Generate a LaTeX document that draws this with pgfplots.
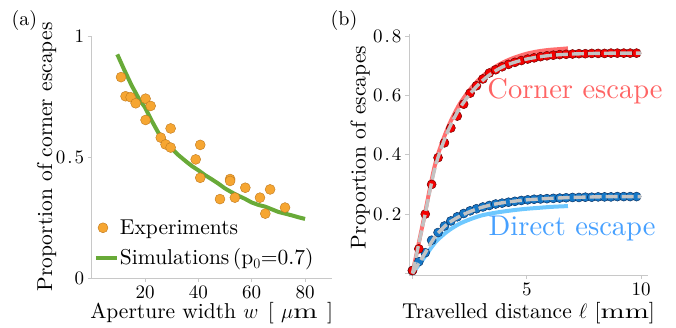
\documentclass[border=0pt]{standalone}
\usepackage{pgfplots}
\pgfplotsset{compat=1.18}
\usepackage{pgfplotstable}
\usepackage{graphicx}
\usepackage{fontspec}
\setmainfont{lmroman10-regular.otf}[ItalicFont=lmroman10-italic.otf, BoldFont=lmroman10-bold.otf]

\definecolor{orfill}{RGB}{246,166,50}
\definecolor{oredge}{RGB}{190,120,30}
\definecolor{simgreen}{RGB}{104,170,56}
\definecolor{redfill}{RGB}{245,0,0}
\definecolor{rededge}{RGB}{110,0,0}
\definecolor{bluefill}{RGB}{20,120,200}
\definecolor{blueedge}{RGB}{10,50,100}
\definecolor{salmon}{RGB}{255,110,110}
\definecolor{lblue}{RGB}{110,200,255}
\definecolor{fitgray}{RGB}{195,195,195}
\definecolor{cornertxt}{RGB}{255,100,100}
\definecolor{directtxt}{RGB}{70,160,255}
\definecolor{axgray}{RGB}{200,200,200}

\newcommand{\wm}{\scalebox{1.35}[1]{m}}
\newcommand{\dotsp}{\kern2pt.\kern2pt}

\pgfplotstableread{
w p
11.0 0.830
12.7 0.751
14.6 0.747
16.5 0.722
20.2 0.741
22.1 0.711
20.2 0.653
25.9 0.580
27.7 0.552
29.6 0.539
29.6 0.618
39.0 0.490
40.7 0.550
40.7 0.414
48.1 0.326
51.9 0.409
51.9 0.401
53.7 0.332
57.6 0.373
63.1 0.332
65.1 0.266
66.9 0.366
72.5 0.291
}\experiments

\pgfplotstableread{
w p
9.6 0.924
12 0.865
15 0.795
18 0.735
20 0.705
22.5 0.650
25 0.600
27.5 0.565
30 0.535
32.5 0.508
35 0.485
37.5 0.463
40 0.445
42.5 0.425
45 0.408
47.5 0.390
50 0.370
52.5 0.354
55 0.340
57.5 0.327
60 0.312
62.5 0.302
65 0.295
67.5 0.284
70 0.273
72.5 0.266
75 0.259
77.5 0.251
80 0.244
}\simulations

\pgfplotstableread{
x y
0.00 0.010
0.28 0.083
0.56 0.200
0.84 0.300
1.12 0.390
1.40 0.440
1.68 0.490
1.96 0.530
2.24 0.570
2.52 0.607
2.80 0.632
3.08 0.655
3.36 0.675
3.64 0.686
3.92 0.696
4.20 0.704
4.48 0.711
4.76 0.717
5.04 0.722
5.32 0.726
5.60 0.730
5.88 0.733
6.16 0.735
6.44 0.737
6.72 0.738
7.00 0.739
7.28 0.740
7.56 0.740
7.84 0.741
8.12 0.741
8.40 0.741
8.68 0.742
8.96 0.742
9.24 0.742
9.52 0.742
9.80 0.742
}\cornerpts

\pgfplotstableread{
x y
0.00 0.010
0.28 0.040
0.56 0.070
0.84 0.112
1.12 0.138
1.40 0.160
1.68 0.177
1.96 0.191
2.24 0.202
2.52 0.211
2.80 0.218
3.08 0.224
3.36 0.229
3.64 0.234
3.92 0.237
4.20 0.240
4.48 0.243
4.76 0.246
5.04 0.248
5.32 0.250
5.60 0.251
5.88 0.252
6.16 0.253
6.44 0.254
6.72 0.255
7.00 0.256
7.28 0.256
7.56 0.257
7.84 0.257
8.12 0.258
8.40 0.258
8.68 0.258
8.96 0.259
9.24 0.259
9.52 0.259
9.80 0.259
}\directpts

\pgfplotstableread{
x y
0.0 0.000
0.5 0.180
1.0 0.360
1.5 0.470
2.0 0.548
2.5 0.603
3.0 0.645
3.5 0.676
4.0 0.698
4.5 0.712
5.0 0.722
5.5 0.729
6.0 0.734
6.5 0.737
7.0 0.739
8.0 0.741
9.0 0.742
10.0 0.742
}\cornerfit

\pgfplotstableread{
x y
0.0 0.000
0.5 0.062
1.0 0.125
1.5 0.165
2.0 0.190
2.5 0.208
3.0 0.222
3.5 0.232
4.0 0.239
4.5 0.244
5.0 0.248
6.0 0.253
7.0 0.256
8.0 0.258
9.0 0.259
10.0 0.259
}\directfit

\pgfplotstableread{
x y
0.0 0.000
0.5 0.185
1.0 0.370
1.5 0.482
2.0 0.562
2.5 0.618
3.0 0.660
3.5 0.690
4.0 0.712
4.5 0.728
5.0 0.740
5.5 0.748
6.0 0.753
6.5 0.756
6.8 0.758
}\cornersim

\pgfplotstableread{
x y
0.0 0.000
0.5 0.052
1.0 0.105
1.5 0.140
2.0 0.165
2.5 0.182
3.0 0.195
3.5 0.203
4.0 0.209
4.5 0.214
5.0 0.218
5.5 0.221
6.0 0.224
6.5 0.226
6.8 0.227
}\directsim

\pgfplotsset{
  myaxis/.style={
    scale only axis,
    axis x line*=bottom,
    axis y line*=left,
    axis line style={draw=axgray, line width=0.7pt},
    tick style={draw=axgray, line width=0.7pt},
    major tick length=4pt,
    tick align=outside,
    font=\fontsize{21.5}{25}\selectfont,
    tick label style={font=\fontsize{19}{22}\selectfont},
    clip=false,
  },
  markleg/.style={
    legend image code/.code={\path[draw=none,fill=none] (-2pt,-0.1pt) rectangle (23pt,0.1pt); \draw[##1] plot coordinates {(7pt,0pt)};}
  },
  lineleg/.style={
    legend image code/.code={\path[draw=none,fill=none] (-2pt,-0.1pt) rectangle (23pt,0.1pt); \draw[##1] (0pt,0pt) -- (21pt,0pt);}
  },
}

\begin{document}
\begin{tikzpicture}[x=1pt,y=1pt]
\path[use as bounding box] (0,0) rectangle (676,328);

\node[font=\fontsize{20}{24}\selectfont] at (24.5,307) {(a)};
\node[font=\fontsize{20}{24}\selectfont] at (344,307) {(b)};

\begin{axis}[myaxis,
  at={(91.7pt,50pt)}, anchor=south west,
  width=240pt, height=242pt,
  xmin=0, xmax=90, ymin=0, ymax=1,
  xtick={20,40,60,80}, xticklabels={20,40,60,80},
  ytick={0,0.5,1}, yticklabels={0,0\dotsp5,1},
  xlabel={Aperture width $w$\;\,[\,\,$\mu$\wm\;\,]},
  ylabel={Proportion of corner escapes},
  xlabel style={at={(axis description cs:0.5,0)}, anchor=base, yshift=-41pt},
  ylabel style={at={(axis description cs:-0.1875,0.5)}, anchor=center},
  legend style={at={(axis cs:0.86,0.245)}, anchor=north west,
    draw=none, fill=none, inner sep=0pt, outer sep=0pt,
    font=\fontsize{21.5}{25}\selectfont,
    nodes={inner sep=1pt},
    row sep=11pt, cells={anchor=west}},
]
\addplot[only marks, mark=*, mark size=5pt,
  mark options={fill=orfill, draw=oredge, line width=0.4pt}, forget plot]
  table[x=w,y=p] {\experiments};
\addlegendimage{draw=none, mark=*, mark size=5pt,
  mark options={fill=orfill, draw=oredge, line width=0.4pt}, markleg}
\addlegendentry{Experiments}
\addplot[simgreen, line width=4pt, no marks, lineleg]
  table[x=w,y=p] {\simulations};
\addlegendentry{Simulations\,(p$_{0}$=0.7)}
\end{axis}

\begin{axis}[myaxis,
  at={(409pt,53pt)}, anchor=south west,
  width=239pt, height=240.6pt,
  clip marker paths=true,
  xmin=-0.15, xmax=10.3, ymin=-0.005, ymax=0.805,
  xtick={0,5,10}, xticklabels={,5,10},
  ytick={0,0.2,0.4,0.6,0.8}, yticklabels={,0\dotsp2,0\dotsp4,0\dotsp6,0\dotsp8},
  xlabel={Travelled distance $\ell$ [\wm\wm]},
  ylabel={Proportion of escapes},
  xlabel style={at={(axis description cs:0.5,0)}, anchor=base, yshift=-44pt},
  ylabel style={at={(axis description cs:-0.205,0.53)}, anchor=center},
]
\addplot[salmon, line width=4pt, no marks, smooth]
  table[x=x,y=y] {\cornersim};
\addplot[lblue, line width=4pt, no marks, smooth]
  table[x=x,y=y] {\directsim};
\addplot[only marks, mark=*, mark size=4.5pt,
  mark options={fill=bluefill, draw=blueedge, line width=0.5pt}]
  table[x=x,y=y] {\directpts};
\addplot[only marks, mark=*, mark size=4.5pt,
  mark options={fill=redfill, draw=rededge, line width=0.5pt}]
  table[x=x,y=y] {\cornerpts};
\addplot[fitgray, line width=3.4pt, no marks, smooth, dash pattern=on 12pt off 4pt]
  table[x=x,y=y] {\cornerfit};
\addplot[fitgray, line width=3.4pt, no marks, smooth, dash pattern=on 12pt off 4pt]
  table[x=x,y=y] {\directfit};
\node[text=cornertxt, font=\fontsize{28.5}{32}\selectfont] at (axis cs:7.11,0.615) {Corner escape};
\node[text=directtxt, font=\fontsize{28.5}{32}\selectfont] at (axis cs:6.98,0.15) {Direct escape};
\end{axis}
\end{tikzpicture}
\end{document}
